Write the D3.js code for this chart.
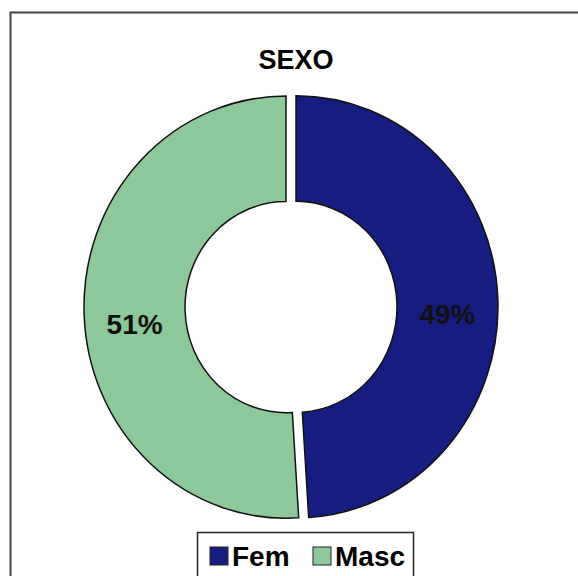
<!DOCTYPE html>
<html lang="es">
<head>
    <meta charset="UTF-8">
    <title>SEXO</title>
    <script src="https://d3js.org/d3.v7.min.js"></script>
    <style>
        body { margin: 0; background: #fff; }
        text { font-family: "Liberation Sans", Arial, sans-serif; font-weight: bold; }
    </style>
</head>
<body>
<script>
    // data
    var categories = ["Fem", "Masc"];
    var values = [49, 51];
    var colors = ["#171c80", "#8cc89a"];
    var title = "SEXO";

    var width = 578, height = 576;
    var cx = 291, cy = 307,
        outerR = 202, innerR = 101, explode = 5,
        stretchY = 1.045;   // scanned original is a bit taller than wide

    var svg = d3.select("body").append("svg")
        .attr("width", width)
        .attr("height", height);

    // chart frame (runs off the right and bottom edge)
    svg.append("rect")
        .attr("x", 10.5).attr("y", 12.5)
        .attr("width", 620).attr("height", 620)
        .attr("fill", "#fff")
        .attr("stroke", "#444")
        .attr("stroke-width", 2);

    svg.append("text")
        .attr("x", 296)
        .attr("y", 69)
        .attr("text-anchor", "middle")
        .style("font-size", "27px")
        .text(title);

    var data = categories.map(function(c, i) { return {name: c, value: values[i], color: colors[i]}; });

    var pie = d3.pie().sort(null).value(function(d) { return d.value; });
    var arc = d3.arc().innerRadius(innerR).outerRadius(outerR);
    var labelArc = d3.arc().innerRadius((innerR + outerR) / 2).outerRadius((innerR + outerR) / 2);
    var total = d3.sum(values);

    var g = svg.append("g").attr("transform", "translate(" + cx + "," + cy + ")");

    var slices = g.selectAll("g.slice")
        .data(pie(data))
        .enter().append("g")
        .attr("class", "slice")
        .attr("transform", function(d) {
            var a = (d.startAngle + d.endAngle) / 2;
            return "translate(" + (Math.sin(a) * explode) + "," + (-Math.cos(a) * explode) + ")";
        });

    slices.append("path")
        .attr("d", arc)
        .attr("transform", "scale(1," + stretchY + ")")
        .attr("fill", function(d) { return d.data.color; })
        .attr("stroke", "#111")
        .attr("stroke-width", 1.5)
        .attr("vector-effect", "non-scaling-stroke");

    slices.append("text")
        .attr("transform", function(d) {
            var c = labelArc.centroid(d);
            return "translate(" + c[0] + "," + (c[1] * stretchY + 12) + ")";
        })
        .attr("text-anchor", "middle")
        .attr("dy", "0.36em")
        .style("font-size", "28px")
        .attr("fill", "#111")
        .text(function(d) { return Math.round(d.data.value / total * 100) + "%"; });

    // legend
    var legend = svg.append("g").attr("transform", "translate(197,532)");
    legend.append("rect")
        .attr("x", 0.5).attr("y", 0.5)
        .attr("width", 216).attr("height", 60)
        .attr("fill", "#fff")
        .attr("stroke", "#222")
        .attr("stroke-width", 1.5);

    var items = legend.selectAll("g.item")
        .data(data)
        .enter().append("g")
        .attr("class", "item")
        .attr("transform", function(d, i) { return "translate(" + [13, 116][i] + ",0)"; });

    items.append("rect")
        .attr("x", 0).attr("y", 15)
        .attr("width", 18).attr("height", 18)
        .attr("fill", function(d) { return d.color; })
        .attr("stroke", "#222")
        .attr("stroke-width", 1);

    items.append("text")
        .attr("x", 22)
        .attr("y", 34)
        .style("font-size", "28px")
        .text(function(d) { return d.name; });
</script>
</body>
</html>
